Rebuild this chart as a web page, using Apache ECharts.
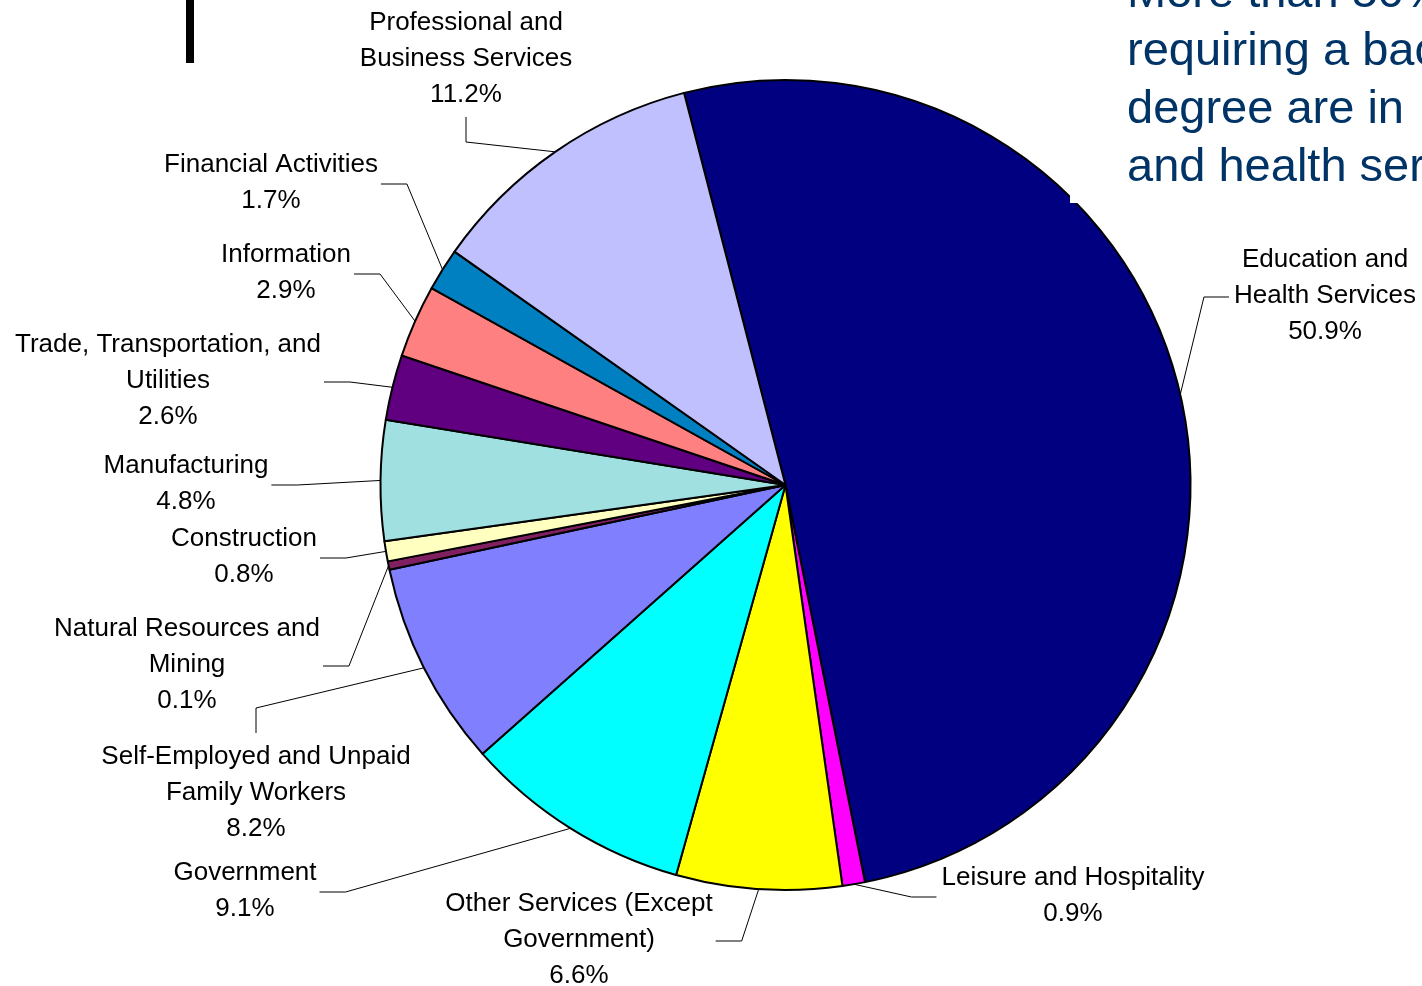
<!DOCTYPE html>
<html>
<head>
<meta charset="utf-8">
<script src="https://cdn.jsdelivr.net/npm/echarts@6/dist/echarts.min.js"></script>
<style>
html,body{margin:0;padding:0;background:#ffffff;}
#c{width:1422px;height:986px;}
</style>
</head>
<body>
<div id="c"></div>
<script>
// ---- data (clockwise from the top) ----
const categories = [
  "Education and\nHealth Services",
  "Leisure and Hospitality",
  "Other Services (Except\nGovernment)",
  "Government",
  "Self-Employed and Unpaid\nFamily Workers",
  "Natural Resources and\nMining",
  "Construction",
  "Manufacturing",
  "Trade, Transportation, and\nUtilities",
  "Information",
  "Financial Activities",
  "Professional and\nBusiness Services"
];
const values = [50.9, 0.9, 6.6, 9.1, 8.2, 0.1, 0.8, 4.8, 2.6, 2.9, 1.7, 11.2];
const sliceColors = ["#000080", "#FF00FF", "#FFFF00", "#00FFFF", "#8080FF", "#802060",
                     "#FFFFC0", "#A0E0E0", "#600080", "#FF8080", "#0080C0", "#C0C0FF"];
const calloutLines = ["More than 50% of jobs", "requiring a bachelor's", "degree are in", "and health services"];

// ---- layout (not data) ----
const labelCenters = [[1325,296],[1073,896],[579,940],[245,891],[256,793],[187,665],
                      [244,557],[186,484],[168,381],[286,273],[271,183],[466,59]];
const leaderSide = ['left','left','right','right','top','right','right','right','right','right','right','bottom'];

const FONT = '"Liberation Sans", Arial, sans-serif';
const CX = 785.5, CY = 485, R = 405, START = 104.5;

function edgePoint(i){
  const total = values.reduce((a,b)=>a+b,0);
  let acc = 0; for (let k=0;k<i;k++) acc += values[k];
  const mid = (START - (acc + values[i]/2)/total*360) * Math.PI/180;
  return [CX + R*Math.cos(mid), CY - R*Math.sin(mid)];
}

const chart = echarts.init(document.getElementById('c'), null, {renderer:'canvas'});
chart.setOption({
  backgroundColor:'#ffffff',
  animation:false,
  series:[{
    type:'pie',
    center:[CX, CY],
    radius:R,
    startAngle:START,
    clockwise:true,
    minAngle:1.2,
    avoidLabelOverlap:false,
    data: categories.map((n,i)=>({name:n, value:values[i], itemStyle:{color:sliceColors[i]}})),
    itemStyle:{borderColor:'#000000', borderWidth:2},
    emphasis:{disabled:true},
    label:{
      show:true, position:'outside', color:'#000000', fontFamily:FONT,
      fontSize:26, lineHeight:36, align:'center',
      formatter: p => p.name + '\n' + values[p.dataIndex].toFixed(1) + '%'
    },
    labelLine:{show:true, length:20, length2:20, smooth:false, lineStyle:{color:'#000000', width:1}},
    labelLayout: function(p){
      const i = p.dataIndex;
      const c = labelCenters[i];
      const w = p.labelRect.width, h = p.labelRect.height;
      const start = (p.labelLinePoints && p.labelLinePoints[0]) ? p.labelLinePoints[0] : edgePoint(i);
      let end, elbow;
      const side = leaderSide[i];
      if (side === 'right') {
        end = [c[0] + w/2 + 3, c[1] + 1];
        elbow = [end[0] + 26, end[1]];
      } else if (side === 'left') {
        end = [c[0] - w/2 - 5, c[1] + 1];
        elbow = [end[0] - 25, end[1]];
      } else if (side === 'top') {
        end = [c[0], c[1] - h/2 - 6];
        elbow = [end[0], end[1] - 25];
      } else {
        end = [c[0], c[1] + h/2 + 4];
        elbow = [end[0], end[1] + 25];
      }
      return {x:c[0], y:c[1], align:'center', verticalAlign:'middle',
              labelLinePoints:[start, elbow, end]};
    }
  }],
  graphic:[
    {type:'rect', z:100, shape:{x:1070, y:0, width:352, height:203}, style:{fill:'#ffffff'}},
    {type:'text', z:101, style:{text:calloutLines.join('\n'), x:1127, y:81,
      verticalAlign:'middle', align:'left', lineHeight:58,
      font:'47px "Liberation Sans", Arial, sans-serif', fill:'#003366'}},
    {type:'rect', z:100, shape:{x:186, y:0, width:8, height:63}, style:{fill:'#000000'}}
  ]
});
</script>
</body>
</html>
